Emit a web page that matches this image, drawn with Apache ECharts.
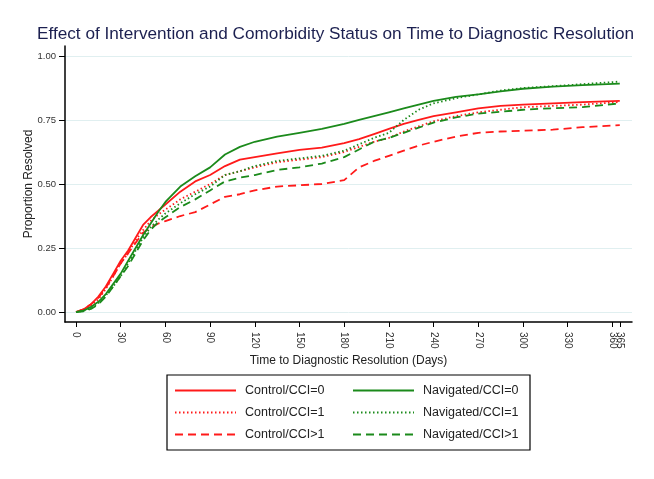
<!DOCTYPE html>
<html>
<head>
<meta charset="utf-8">
<script src="https://cdn.jsdelivr.net/npm/echarts@6.0.0/dist/echarts.min.js"></script>
<style>
  html, body { margin: 0; padding: 0; background: #fff; }
  #main { width: 654px; height: 479px; }
</style>
</head>
<body>
<div id="main"></div>
<script type="text/javascript">
    // days at which the curves were read
    var days = [0, 5, 10, 15, 20, 25, 30, 35, 40, 45, 50, 55, 60, 70, 80, 90, 100, 110, 120, 135, 150, 165, 180, 190, 200, 210, 220, 230, 240, 255, 270, 285, 300, 320, 340, 365];

    var controlCci0   = [0, 0.01, 0.03, 0.06, 0.10, 0.15, 0.20, 0.24, 0.29, 0.34, 0.37, 0.395, 0.42, 0.47, 0.51, 0.535, 0.57, 0.595, 0.605, 0.62, 0.633, 0.642, 0.66, 0.675, 0.695, 0.715, 0.735, 0.75, 0.765, 0.78, 0.795, 0.805, 0.81, 0.815, 0.82, 0.825];
    var controlCci1   = [0, 0.01, 0.025, 0.05, 0.09, 0.14, 0.19, 0.23, 0.28, 0.32, 0.355, 0.38, 0.40, 0.44, 0.47, 0.50, 0.535, 0.55, 0.565, 0.585, 0.595, 0.605, 0.625, 0.645, 0.665, 0.68, 0.705, 0.725, 0.745, 0.765, 0.78, 0.79, 0.80, 0.805, 0.81, 0.82];
    var controlCci2   = [0, 0.01, 0.03, 0.055, 0.095, 0.14, 0.19, 0.23, 0.27, 0.31, 0.33, 0.345, 0.355, 0.375, 0.39, 0.42, 0.45, 0.46, 0.475, 0.49, 0.495, 0.50, 0.515, 0.565, 0.59, 0.61, 0.63, 0.65, 0.665, 0.685, 0.70, 0.705, 0.708, 0.712, 0.722, 0.73];
    var navCci0       = [0, 0.005, 0.02, 0.04, 0.07, 0.11, 0.15, 0.20, 0.25, 0.30, 0.345, 0.39, 0.43, 0.49, 0.53, 0.565, 0.615, 0.645, 0.665, 0.685, 0.70, 0.715, 0.735, 0.75, 0.765, 0.78, 0.795, 0.81, 0.825, 0.84, 0.85, 0.862, 0.872, 0.88, 0.886, 0.892];
    var navCci1       = [0, 0.005, 0.015, 0.035, 0.065, 0.10, 0.14, 0.19, 0.24, 0.29, 0.33, 0.36, 0.385, 0.425, 0.46, 0.49, 0.535, 0.55, 0.57, 0.59, 0.60, 0.61, 0.63, 0.655, 0.68, 0.70, 0.75, 0.79, 0.815, 0.835, 0.85, 0.865, 0.875, 0.882, 0.89, 0.90];
    var navCci2       = [0, 0.003, 0.012, 0.03, 0.06, 0.10, 0.14, 0.18, 0.23, 0.28, 0.32, 0.35, 0.37, 0.41, 0.44, 0.475, 0.51, 0.525, 0.535, 0.555, 0.565, 0.58, 0.605, 0.635, 0.665, 0.68, 0.70, 0.72, 0.74, 0.76, 0.775, 0.782, 0.79, 0.796, 0.80, 0.815];

    var xTicks = [0, 30, 60, 90, 120, 150, 180, 210, 240, 270, 300, 330, 360];
    var xTicksEnd = [365];   // drawn on an overlaid axis so it is not dropped as overlapping 360
    var yTicks = [0, 0.25, 0.5, 0.75, 1];

    function pairs(vals) {
        return days.map(function (d, i) { return [d, vals[i]]; });
    }

    var RED = '#ff1a1a';
    var GREEN = '#1b8a1b';
    var FONT = 'Liberation Sans, Arial, sans-serif';
    var X_MIN = -7.4, X_MAX = 373.2;

    var chart = echarts.init(document.getElementById('main'));

    function line(name, vals, color, type) {
        return {
            name: name,
            type: 'line',
            data: pairs(vals),
            showSymbol: false,
            symbol: 'none',
            animation: false,
            lineStyle: { color: color, width: 1.8, type: type },
            itemStyle: { color: color }
        };
    }

    function legendPart(names, left) {
        return {
            data: names,
            orient: 'vertical',
            left: left,
            top: 384,
            padding: 0,
            itemWidth: 61,
            itemHeight: 14,
            itemGap: 9,
            itemStyle: { opacity: 0 },
            textStyle: { fontFamily: FONT, fontSize: 12.5, color: '#222', padding: [0, 0, 0, 4] }
        };
    }

    function xLabels(values) {
        return {
            customValues: values,
            hideOverlap: false,
            showMinLabel: true,
            showMaxLabel: true,
            rotate: -90,
            margin: 10,
            fontFamily: FONT,
            fontSize: 10,
            color: '#333'
        };
    }

    var option = {
        animation: false,
        title: {
            text: 'Effect of Intervention and Comorbidity Status on Time to Diagnostic Resolution',
            left: 32,
            top: 21,
            textStyle: { fontFamily: FONT, fontSize: 17.2, fontWeight: 'normal', color: '#1c2050' }
        },
        grid: [
            { left: 65, right: 22, top: 46, height: 276 },
            { left: 65, right: 22, top: 46, height: 276 }
        ],
        xAxis: [{
            type: 'value',
            gridIndex: 0,
            min: X_MIN,
            max: X_MAX,
            name: 'Time to Diagnostic Resolution (Days)',
            nameLocation: 'middle',
            nameGap: 33,
            nameMoveOverlap: false,
            nameTextStyle: { fontFamily: FONT, fontSize: 12, color: '#222' },
            axisLine: { show: true, onZero: false, lineStyle: { color: '#000', width: 1.5 } },
            axisTick: { show: true, length: 5, customValues: xTicks, lineStyle: { color: '#000' } },
            axisLabel: xLabels(xTicks),
            splitLine: { show: false }
        }, {
            type: 'value',
            gridIndex: 1,
            position: 'bottom',
            min: X_MIN,
            max: X_MAX,
            axisLine: { show: false, onZero: false },
            axisTick: { show: true, length: 5, customValues: xTicksEnd, lineStyle: { color: '#000' } },
            axisLabel: xLabels(xTicksEnd),
            splitLine: { show: false }
        }],
        yAxis: [{
            type: 'value',
            gridIndex: 0,
            min: -0.039,
            max: 1.039,
            name: 'Proportion Resolved',
            nameLocation: 'middle',
            nameGap: 30,
            nameMoveOverlap: false,
            nameTextStyle: { fontFamily: FONT, fontSize: 12, color: '#222' },
            axisLine: { show: true, onZero: false, lineStyle: { color: '#000', width: 1.5 } },
            axisTick: { show: true, length: 6, customValues: yTicks, lineStyle: { color: '#000' } },
            axisLabel: {
                customValues: yTicks,
                margin: 9,
                fontFamily: FONT,
                fontSize: 9.5,
                color: '#333',
                formatter: function (v) { return v.toFixed(2); }
            },
            splitLine: { show: true, lineStyle: { color: '#e0eff0', width: 1 } }
        }, {
            type: 'value',
            gridIndex: 1,
            min: -0.039,
            max: 1.039,
            show: false
        }],
        legend: [
            legendPart(['Control/CCI=0', 'Control/CCI=1', 'Control/CCI>1'], 174),
            legendPart(['Navigated/CCI=0', 'Navigated/CCI=1', 'Navigated/CCI>1'], 352)
        ],
        graphic: [{
            type: 'rect',
            shape: { x: 167, y: 375, width: 363, height: 75 },
            style: { fill: 'none', stroke: '#000', lineWidth: 1.2 },
            silent: true
        }],
        series: [
            line('Control/CCI=0', controlCci0, RED, 'solid'),
            line('Control/CCI=1', controlCci1, RED, [1.5, 2.5]),
            line('Control/CCI>1', controlCci2, RED, [8, 5]),
            line('Navigated/CCI=0', navCci0, GREEN, 'solid'),
            line('Navigated/CCI=1', navCci1, GREEN, [1.5, 2.5]),
            line('Navigated/CCI>1', navCci2, GREEN, [8, 5])
        ]
    };

    chart.setOption(option);
</script>
</body>
</html>
